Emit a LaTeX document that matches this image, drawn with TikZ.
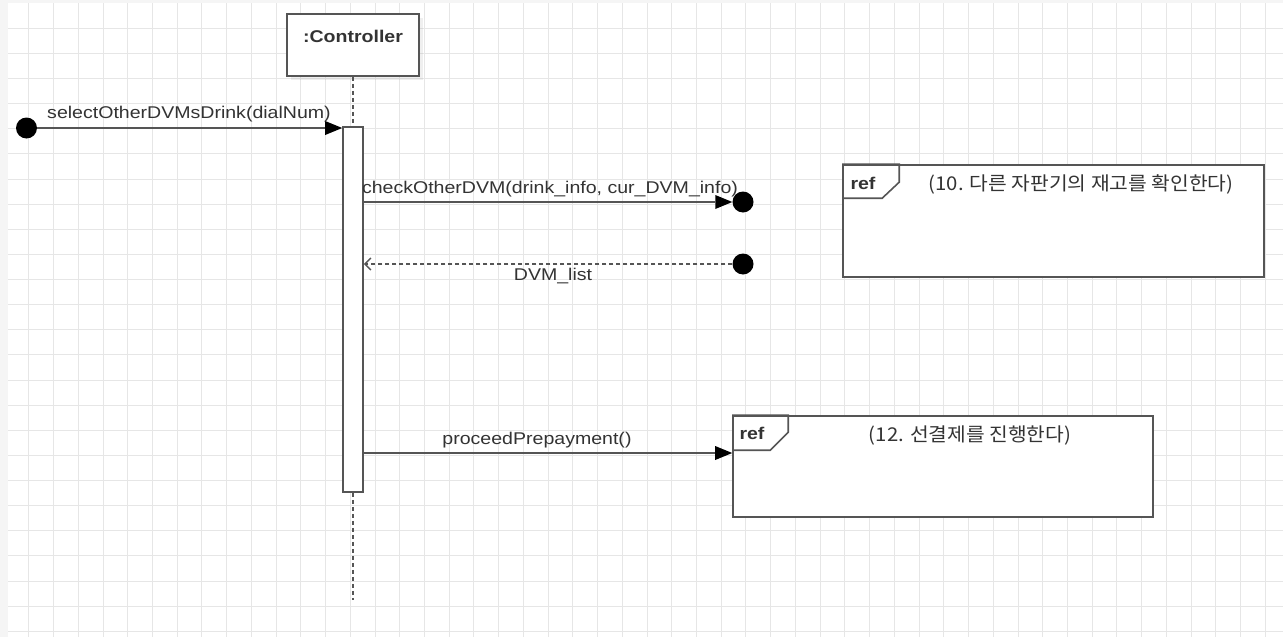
\documentclass[tikz,border=0pt]{standalone}
\usepackage{fontspec}
\setmainfont[FakeStretch=1.15]{Liberation Sans}
\newfontfamily\kr[FakeStretch=1.07]{Noto Sans CJK KR}
\usetikzlibrary{arrows.meta,shadows}
\definecolor{linec}{HTML}{555555}
\definecolor{textc}{HTML}{333333}
\definecolor{gridc}{HTML}{E6E6E6}
\tikzset{
  obj/.style={draw=linec, line width=1.6pt, fill=white, minimum width=132pt, minimum height=62pt, inner sep=0pt,
    drop shadow={opacity=0.12, shadow xshift=4pt, shadow yshift=-4pt}},
  act/.style={draw=linec, line width=1.6pt, fill=white, minimum width=20pt, minimum height=365pt, inner sep=0pt},
  refbox/.style={draw=linec, line width=1.6pt, fill=white, inner sep=0pt},
  enddot/.style={circle, fill=black, minimum size=21pt, inner sep=0pt},
  lbl/.style={text=textc, font=\fontsize{17}{20}\selectfont, anchor=base, inner sep=0pt},
  krlbl/.style={text=textc, font=\kr\fontsize{19}{22}\selectfont, anchor=base, inner sep=0pt},
  tagtxt/.style={text=textc, font=\fontsize{17}{20}\selectfont\bfseries, anchor=base, inner sep=0pt},
  msg/.style={draw=linec, line width=1.7pt, -{Triangle[length=17pt,width=14pt,line width=0pt,fill=black,color=black]}},
  ret/.style={draw=linec, line width=1.5pt, dash pattern=on 4pt off 3pt, -{Straight Barb[length=6pt,width=12pt]}},
  lifeline/.style={draw=linec, line width=1.3pt, dash pattern=on 4pt off 3pt},
  gridline/.style={draw=gridc, line width=1pt}
}
\begin{document}
\begin{tikzpicture}[x=1pt,y=-1pt]
  \useasboundingbox (0,0) rectangle (1283,637);
  % canvas and grid
  \fill[gray!8] (0,0) rectangle (1283,637);
  \fill[white] (8,3) rectangle (1283,637);
  \foreach \i in {1,...,51} {
    \pgfmathsetmacro{\gx}{round(3.6+24.73*\i)+0.5}
    \draw[gridline] (\gx,3) -- (\gx,637);
  }
  \foreach \j in {1,...,25} {
    \pgfmathsetmacro{\gy}{round(2.6+25.13*\j)+0.5}
    \draw[gridline] (8,\gy) -- (1283,\gy);
  }

  % lifeline of the controller
  \node[obj] (ctrl) at (353,45) {};
  \node[tagtxt] (ctrltxt) at (353,42) {:Controller};
  \coordinate (lifeend) at (353,600);
  \node[act] (act) at (353,309.5) {};
  \draw[lifeline] (ctrl.south) -- (act.north);
  \draw[lifeline] (act.south) -- (lifeend);

  % end points
  \node[enddot] (start) at (26.5,128) {};
  \node[enddot] (dot1) at (743,202) {};
  \node[enddot] (dot2) at (743,264) {};

  % ref frames
  \node[refbox, minimum width=421pt, minimum height=112pt] (ref1) at (1053.5,221) {};
  \draw[draw=linec, line width=1.6pt] (ref1.north west) -- ++(57,0) -- ++(0,18) -- ++(-17,16) -- ++(-40,0);
  \node[tagtxt] (reftag1) at (863,189) {ref};
  \node[krlbl] (reftxt1) at (1081,190) {(10. 다른 자판기의 재고를 확인한다)};

  \node[refbox, minimum width=420pt, minimum height=101pt] (ref2) at (943,466.5) {};
  \draw[draw=linec, line width=1.6pt] (ref2.north west) -- ++(56,0) -- ++(0,17) -- ++(-18,18) -- ++(-38,0);
  \node[tagtxt] (reftag2) at (752,439) {ref};
  \node[krlbl] (reftxt2) at (970,441) {(12. 선결제를 진행한다)};
  \coordinate (m3) at (ref2.west |- 0,453);

  % messages
  \draw[msg] (start) -- (start -| act.west);
  \node[lbl] (l1) at (189,118) {selectOtherDVMsDrink(dialNum)};
  \draw[msg] (dot1 -| act.east) -- (dot1.west);
  \node[lbl] (l2) at (550,193) {checkOtherDVM(drink\_info, cur\_DVM\_info)};
  \draw[ret] (dot2.west) -- (dot2 -| act.east);
  \node[lbl] (l3) at (553,280) {DVM\_list};
  \draw[msg] (m3 -| act.east) -- (m3);
  \node[lbl] (l4) at (537,444) {proceedPrepayment()};
\end{tikzpicture}
\end{document}
